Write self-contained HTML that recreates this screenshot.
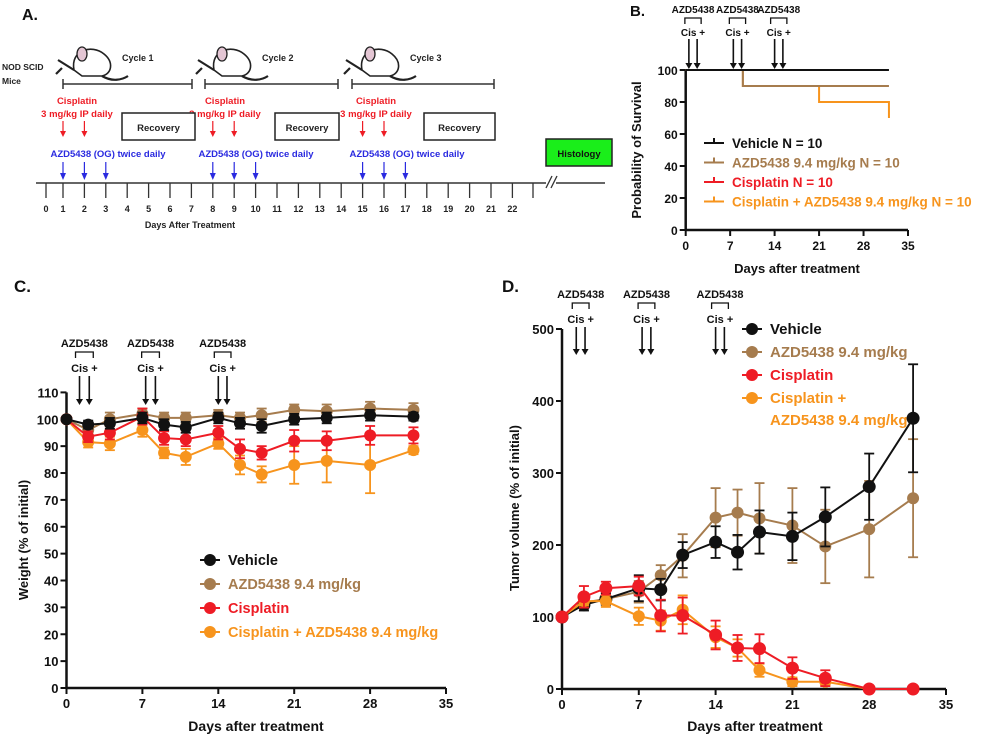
<!DOCTYPE html>
<html><head><meta charset="utf-8"><style>
body{margin:0;background:#fff;}
svg{display:block;font-family:"Liberation Sans",Arial,sans-serif;font-weight:bold;}
</style></head><body>
<svg id="fig" width="985" height="741" viewBox="0 0 985 741">
<g id="pA"></g>
<g id="pB"></g>
<g id="pC"></g>
<g id="pD"></g>
</svg>
<script>
// ---- data ----
const daysC = [0,2,4,7,9,11,14,16,18,21,24,28,32];
const wVeh = [100,98,98.5,100.5,98,97,100.5,98.5,97.5,100,100.5,101.5,101];
const wVehE = [0,1.5,2,2,2,2,2,2,2.5,2,2,2,1.5];
const wAzd = [100,96,100,102,100.5,100.5,101.5,100.5,101.5,103.5,103,104,103.5];
const wAzdE = [0,2,2.5,2,2,2,2,2,2.5,2,2.5,2.5,2.5];
const wCis = [100,93.5,95,101,93,92.5,95,89,87.5,92,92,94,94];
const wCisE = [0,2,2.5,3,2.5,2.5,2.5,3.5,2.5,4,3.5,3.5,3];
const wCmb = [100,91.5,91,96,87.5,86,91,83,79.5,83,84.5,83,88.5];
const wCmbE = [0,2,2.5,2.5,2,3,2,3.5,3,7,8,10.5,1.5];

const daysD = [0,2,4,7,9,11,14,16,18,21,24,28,32];
const tVeh = [100,117,125,140,138,186,204,190,218,212,239,281,376];
const tVehE = [0,8,8,18,15,18,22,24,30,33,41,46,75];
const tAzd = [100,120,125,135,158,185,238,245,237,227,198,222,265];
const tAzdE = [0,8,8,15,14,30,41,32,49,52,51,67,82];
const tCis = [100,128,140,143,102,102,75,57,56,29,15,0,0];
const tCisE = [0,15,9,13,22,25,20,18,20,15,11,0,0];
const tCmb = [100,122,122,101,95,110,72,57,26,10,10,0,0];
const tCmbE = [0,6,8,12,14,20,15,12,9,6,5,0,0];

const survDaysVeh = [0,32]; const survVeh = [100,100];
const survDaysAzd = [0,9,32]; const survAzd = [100,90,90];
const survDaysCmb = [0,9,21,32]; const survCmb = [100,90,80,70];

const dayTicks = [0,7,14,21,28,35];
const weightTicks = [0,10,20,30,40,50,60,70,80,90,100,110];
const tumorTicks = [0,100,200,300,400,500];
const survTicks = [0,20,40,60,80,100];

const BLACK='#111', BROWN='#a67c4e', RED='#ee1c25', ORANGE='#f7941d';
const NS='http://www.w3.org/2000/svg';
function el(parent, tag, attrs, text){const e=document.createElementNS(NS,tag);for(const k in attrs)e.setAttribute(k,attrs[k]);if(text!==undefined)e.textContent=text;parent.appendChild(e);return e;}

function axes(g, x0,x1,y0,y1, xt, yt, xmax, ymax, fs){
  const sx=v=>x0+(x1-x0)*v/xmax, sy=v=>y0-(y0-y1)*v/ymax;
  el(g,'line',{x1:x0,y1:y0,x2:x1,y2:y0,stroke:'#111','stroke-width':2.5});
  el(g,'line',{x1:x0,y1:y0+1,x2:x0,y2:sy(yt[yt.length-1]),stroke:'#111','stroke-width':2.5});
  xt.forEach(t=>{el(g,'line',{x1:sx(t),y1:y0,x2:sx(t),y2:y0+6,stroke:'#111','stroke-width':2});
    const e=el(g,'text',{x:sx(t),y:y0+20,'text-anchor':'middle','font-size':fs,fill:'#111'},t);
     });
  yt.forEach(t=>{el(g,'line',{x1:x0-6,y1:sy(t),x2:x0,y2:sy(t),stroke:'#111','stroke-width':2});
    const e=el(g,'text',{x:x0-8,y:sy(t)+5,'text-anchor':'end','font-size':fs,fill:'#111'},t);
     });
  return {sx,sy};
}
function series(g, sx, sy, xs, ys, es, color, r, name){
  const sg=el(g,'g',{});
  
  
  el(sg,'polyline',{points:xs.map((x,i)=>sx(x)+','+sy(ys[i])).join(' '),fill:'none',stroke:color,'stroke-width':2});
  xs.forEach((x,i)=>{ if(es[i]>0){const cx=sx(x);
    el(sg,'line',{x1:cx,y1:sy(ys[i]-es[i]),x2:cx,y2:sy(ys[i]+es[i]),stroke:color,'stroke-width':1.8});
    el(sg,'line',{x1:cx-5,y1:sy(ys[i]-es[i]),x2:cx+5,y2:sy(ys[i]-es[i]),stroke:color,'stroke-width':1.8});
    el(sg,'line',{x1:cx-5,y1:sy(ys[i]+es[i]),x2:cx+5,y2:sy(ys[i]+es[i]),stroke:color,'stroke-width':1.8});}
    const c=el(sg,'circle',{cx:sx(x),cy:sy(ys[i]),r:r,fill:color});
     });
}
function doseMarks(g, sx, pairs, yLab, yCis, yA0, yA1, fs){
  pairs.forEach(p=>{const a=sx(p[0]), b=sx(p[1]);
    const t=el(g,'text',{x:(a+b)/2,y:yLab,'text-anchor':'middle','font-size':fs,fill:'#111'},'AZD5438');
     
    el(g,'polyline',{points:`${a-4},${yLab+11} ${a-4},${yLab+5} ${b+4},${yLab+5} ${b+4},${yLab+11}`,fill:'none',stroke:'#111','stroke-width':1.3});
    const c=el(g,'text',{x:(a+b)/2,y:yCis,'text-anchor':'middle','font-size':fs,fill:'#111'},'Cis +');
     
    [a,b].forEach(x=>{el(g,'line',{x1:x,y1:yA0,x2:x,y2:yA1-5,stroke:'#111','stroke-width':1.6});
      el(g,'polygon',{points:`${x-3.5},${yA1-6} ${x+3.5},${yA1-6} ${x},${yA1}`,fill:'#111'});});
  });
}
function legend(g, x, y0, dy, items, fs, marker){
  items.forEach((it,i)=>{const y=y0+i*dy; const lg=el(g,'g',{});
     
    el(lg,'line',{x1:x-10,y1:y,x2:x+10,y2:y,stroke:it[1],'stroke-width':2});
    if(marker) el(lg,'circle',{cx:x,cy:y,r:6,fill:it[1]}); else el(lg,'line',{x1:x,y1:y,x2:x,y2:y-5,stroke:it[1],'stroke-width':2});
    (it[2]||[it[0]]).forEach((s,j)=>el(lg,'text',{x:x+18,y:y+5+j*22,'font-size':fs,fill:it[1]},s));
  });
}
function rotText(g,x,y,s,fs,name){const t=el(g,'text',{x:x,y:y,transform:`rotate(-90 ${x} ${y})`,'text-anchor':'middle','font-size':fs,fill:'#111'},s);
   }
function txt(g,x,y,s,fs,col,anchor,name){const t=el(g,'text',{x:x,y:y,'font-size':fs,fill:col||'#111','text-anchor':anchor||'start'},s);
    return t;}

// ---- Panel C ----
(function(){const g=document.getElementById('pC');
  txt(g,14,292,'C.',17,'#111','start','panel-c-letter');
  const {sx,sy}=axes(g,66.5,446,688,392.4,dayTicks,weightTicks,35,110,13);
  series(g,sx,sy,daysC,wAzd,wAzdE,BROWN,6,'series-azd5438');
  series(g,sx,sy,daysC,wCmb,wCmbE,ORANGE,6,'series-cisplatin-azd5438');
  series(g,sx,sy,daysC,wCis,wCisE,RED,6,'series-cisplatin');
  series(g,sx,sy,daysC,wVeh,wVehE,BLACK,6,'series-vehicle');
  doseMarks(g,sx,[[1.2,2.1],[7.3,8.2],[14,14.8]],347,372,376,405,11);
  legend(g,210,560,24,[['Vehicle',BLACK],['AZD5438 9.4 mg/kg',BROWN],['Cisplatin',RED],['Cisplatin + AZD5438  9.4 mg/kg',ORANGE]],14.5,true);
  rotText(g,28,540,'Weight (% of initial)',13,'y-axis-title');
  txt(g,256,731,'Days after treatment',14,'#111','middle','x-axis-title');
})();

// ---- Panel D ----
(function(){const g=document.getElementById('pD');
  txt(g,502,292,'D.',17,'#111','start','panel-d-letter');
  const {sx,sy}=axes(g,562,946,689,329,dayTicks,tumorTicks,35,500,13);
  series(g,sx,sy,daysD,tAzd,tAzdE,BROWN,6,'series-azd5438');
  series(g,sx,sy,daysD,tVeh,tVehE,BLACK,6.5,'series-vehicle');
  series(g,sx,sy,daysD,tCmb,tCmbE,ORANGE,6,'series-cisplatin-azd5438');
  series(g,sx,sy,daysD,tCis,tCisE,RED,6.5,'series-cisplatin');
  doseMarks(g,sx,[[1.3,2.1],[7.3,8.1],[14,14.8]],298,323,327,355,11);
  legend(g,752,329,23,[['Vehicle',BLACK],['AZD5438 9.4 mg/kg',BROWN],['Cisplatin',RED],['Cisplatin +',ORANGE,['Cisplatin +','AZD5438 9.4 mg/kg']]],15,true);
  rotText(g,519,508,'Tumor volume (% of initial)',13,'y-axis-title');
  txt(g,755,731,'Days after treatment',14,'#111','middle','x-axis-title');
})();

// ---- Panel B ----
(function(){const g=document.getElementById('pB');
  txt(g,630,16,'B.',15,'#111','start','panel-b-letter');
  const {sx,sy}=axes(g,685.7,908,230,70,dayTicks,survTicks,35,100,12);
  function step(xs,ys,col,name){let pts=[];xs.forEach((x,i)=>{if(i>0)pts.push(sx(x)+','+sy(ys[i-1]));pts.push(sx(x)+','+sy(ys[i]));});
    const p=el(g,'polyline',{points:pts.join(' '),fill:'none',stroke:col,'stroke-width':2});
     }
  step(survDaysCmb,survCmb,ORANGE,'survival-cisplatin-azd5438');
  step(survDaysAzd,survAzd,BROWN,'survival-azd5438');
  step(survDaysVeh,survVeh,BLACK,'survival-vehicle');
  doseMarks(g,sx,[[0.5,1.8],[7.5,8.8],[14,15.3]],13,36,39,69,10);
  legend(g,714,143,19.5,[['Vehicle N = 10',BLACK],['AZD5438 9.4 mg/kg N = 10',BROWN],['Cisplatin N = 10',RED],['Cisplatin + AZD5438 9.4 mg/kg N = 10',ORANGE]],13.5,false);
  rotText(g,641,150,'Probability of Survival',13,'y-axis-title');
  txt(g,797,273,'Days after treatment',13,'#111','middle','x-axis-title');
})();

// ---- Panel A ----
const schedDays=[0,1,2,3,4,5,6,7,8,9,10,11,12,13,14,15,16,17,18,19,20,21,22];
const cisDays=[1,2,8,9,15,16];
const azdDays=[1,2,3,8,9,10,15,16,17];
(function(){const g=document.getElementById('pA');
  txt(g,22,20,'A.',16,'#111','start','panel-a-letter');
  const dx=d=>d===0?46:63+(d-1)*21.4;
  const ty=183;
  el(g,'line',{x1:36,y1:ty,x2:546,y2:ty,stroke:'#333','stroke-width':1.5});
  el(g,'line',{x1:556,y1:ty,x2:605,y2:ty,stroke:'#333','stroke-width':1.5});
  el(g,'line',{x1:546,y1:188,x2:552,y2:176,stroke:'#333','stroke-width':1.3});
  el(g,'line',{x1:551,y1:188,x2:557,y2:176,stroke:'#333','stroke-width':1.3});
  schedDays.forEach(d=>{el(g,'line',{x1:dx(d),y1:ty,x2:dx(d),y2:ty+15,stroke:'#333','stroke-width':1.3});
    const t=el(g,'text',{x:dx(d),y:212,'text-anchor':'middle','font-size':9,fill:'#222'},d);
     });
  el(g,'line',{x1:533,y1:ty,x2:533,y2:ty+15,stroke:'#333','stroke-width':1.3});
  txt(g,190,228,'Days After Treatment',9,'#222','middle','timeline-axis-title');
  txt(g,2,70,'NOD SCID',8.5,'#222','start','mice-label');
  txt(g,2,84,'Mice',8.5,'#222','start','mice-label');
  [[63,192,1,110],[205,338,2,250],[352,494,3,398]].forEach(c=>{
    el(g,'line',{x1:c[0],y1:84,x2:c[1],y2:84,stroke:'#333','stroke-width':1.5});
    el(g,'line',{x1:c[0],y1:79,x2:c[0],y2:89,stroke:'#333','stroke-width':1.5});
    el(g,'line',{x1:c[1],y1:79,x2:c[1],y2:89,stroke:'#333','stroke-width':1.5});
    txt(g,c[3]+12,61,'Cycle '+c[2],9,'#222','start','cycle-label');
    const m=el(g,'g',{transform:`translate(${c[3]-58},40)`});  
    el(m,'path',{d:'M22 30 C18 10 40 4 52 14 C62 22 60 34 50 36 L30 36 Z',fill:'#fff',stroke:'#222','stroke-width':1.6});
    el(m,'ellipse',{cx:30,cy:14,rx:5,ry:7,fill:'#e4c6d4',stroke:'#222','stroke-width':1.3});
    el(m,'path',{d:'M22 30 L6 20 M10 28 L4 34 M50 36 C60 42 70 40 76 36',fill:'none',stroke:'#222','stroke-width':2.2});
  });
  [[63,1],[211,8],[362,15]].forEach(c=>{
    txt(g,c[0]+14,104,'Cisplatin',9.5,RED,'middle','cisplatin-label');
    txt(g,c[0]+14,117,'3 mg/kg IP daily',9.5,RED,'middle','cisplatin-dose');
    txt(g,c[0]+45,157,'AZD5438 (OG) twice daily',9.5,'#2a2ae0','middle','azd5438-label');
  });
  [[122,195],[275,339],[424,495]].forEach(b=>{
    const r=el(g,'rect',{x:b[0],y:113,width:b[1]-b[0],height:27,fill:'#fff',stroke:'#222','stroke-width':1.5});
     
    txt(g,(b[0]+b[1])/2,131,'Recovery',9.5,'#222','middle','recovery-label');});
  cisDays.forEach(d=>{const x=dx(d); el(g,'line',{x1:x,y1:121,x2:x,y2:131,stroke:RED,'stroke-width':1.2});
    el(g,'polygon',{points:`${x-3},${131} ${x+3},${131} ${x},${137}`,fill:RED});});
  azdDays.forEach(d=>{const x=dx(d); el(g,'line',{x1:x,y1:162,x2:x,y2:173,stroke:'#2a2ae0','stroke-width':1.2});
    el(g,'polygon',{points:`${x-3},${173} ${x+3},${173} ${x},${180}`,fill:'#2a2ae0'});});
  const h=el(g,'rect',{x:546,y:139,width:66,height:27,fill:'#1aee1a',stroke:'#222','stroke-width':1.5});
   
  txt(g,579,157,'Histology',9.5,'#111','middle','histology-label');
})();
</script>
</body></html>
